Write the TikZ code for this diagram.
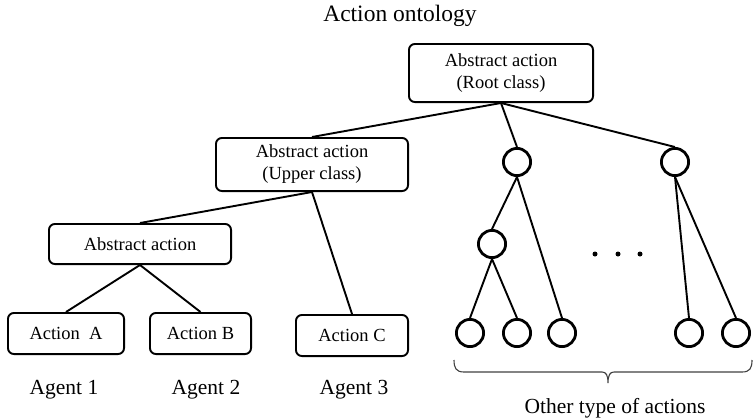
\documentclass[tikz,border=0pt]{standalone}
\usepackage{fontspec}
\setmainfont{Liberation Serif}
\begin{document}
\begin{tikzpicture}[x=1pt,y=-1pt,
  box/.style={draw, line width=1.9pt, rounded corners=6pt, inner sep=0pt,
              align=center, font=\fontsize{18.5}{22}\selectfont},
  leaf/.style={draw, circle, line width=2.8pt, minimum size=27.2pt, inner sep=0pt},
  link/.style={line width=1.9pt},
  caption/.style={font=\fontsize{21.5}{25}\selectfont, anchor=base, inner sep=0pt},
  dot/.style={fill, circle, minimum size=5pt, inner sep=0pt},
  bracket/.style={line width=1.1pt, draw=black!75}]
\useasboundingbox (0,0) rectangle (754,418);

% title
\node[font=\fontsize{23.5}{27}\selectfont, anchor=base, inner sep=0pt] (title) at (400,21) {Action ontology};

% class boxes
\node[box, minimum width=184.1pt, minimum height=58.1pt] (root)  at (501,73)    {Abstract action\\(Root class)};
\node[box, minimum width=192.1pt, minimum height=53.1pt] (upper) at (312,164.5) {Abstract action\\(Upper class)};
\node[box, minimum width=182.1pt, minimum height=40.1pt] (abs)   at (140,244)   {Abstract action};
\node[box, minimum width=116.1pt, minimum height=41.1pt] (actA)  at (66,333.5)  {Action\ \ A};
\node[box, minimum width=101.1pt, minimum height=41.1pt] (actB)  at (200.5,333.5) {Action B};
\node[box, minimum width=112.1pt, minimum height=41.1pt] (actC)  at (352,335.5) {Action C};

% agents
\node[caption] (ag1) at (64,394)  {Agent 1};
\node[caption] (ag2) at (206,394) {Agent 2};
\node[caption] (ag3) at (354,394) {Agent 3};

% other actions
\node[leaf] (c1) at (517,162) {};
\node[leaf] (c2) at (675,162) {};
\node[leaf] (m1) at (492,244) {};
\node[leaf] (b1) at (470,333) {};
\node[leaf] (b2) at (517,333) {};
\node[leaf] (b3) at (562,333) {};
\node[leaf] (b4) at (689,333) {};
\node[leaf] (b5) at (736,333) {};

\node[dot] (d1) at (595,254) {};
\node[dot] (d2) at (618,254) {};
\node[dot] (d3) at (640,254) {};

% links
\draw[link] (root.south) -- (upper.north);
\draw[link] (root.south) -- (c1.north);
\draw[link] (root.south) -- (c2.north);
\draw[link] (upper.south) -- (abs.north);
\draw[link] (upper.south) -- (actC.north);
\draw[link] (abs.south) -- (actA.north);
\draw[link] (abs.south) -- (actB.north);
\draw[link] (c1.south) -- (m1.north);
\draw[link] (c1.south) -- (b3.north);
\draw[link] (m1.south) -- (b1.north);
\draw[link] (m1.south) -- (b2.north);
\draw[link] (c2.south) -- (b4.north);
\draw[link] (c2.south) -- (b5.north);

% bracket under the other actions
\draw[bracket] (454,360) .. controls (454,368) and (456,372) .. (464,372) -- (602,372)
  .. controls (606,372) and (608,375) .. (608,383)
  .. controls (608,375) and (610,372) .. (614,372) -- (742,372)
  .. controls (750,372) and (752,368) .. (752,360);
\node[caption] (other) at (615,413) {Other type of actions};
\end{tikzpicture}
\end{document}
